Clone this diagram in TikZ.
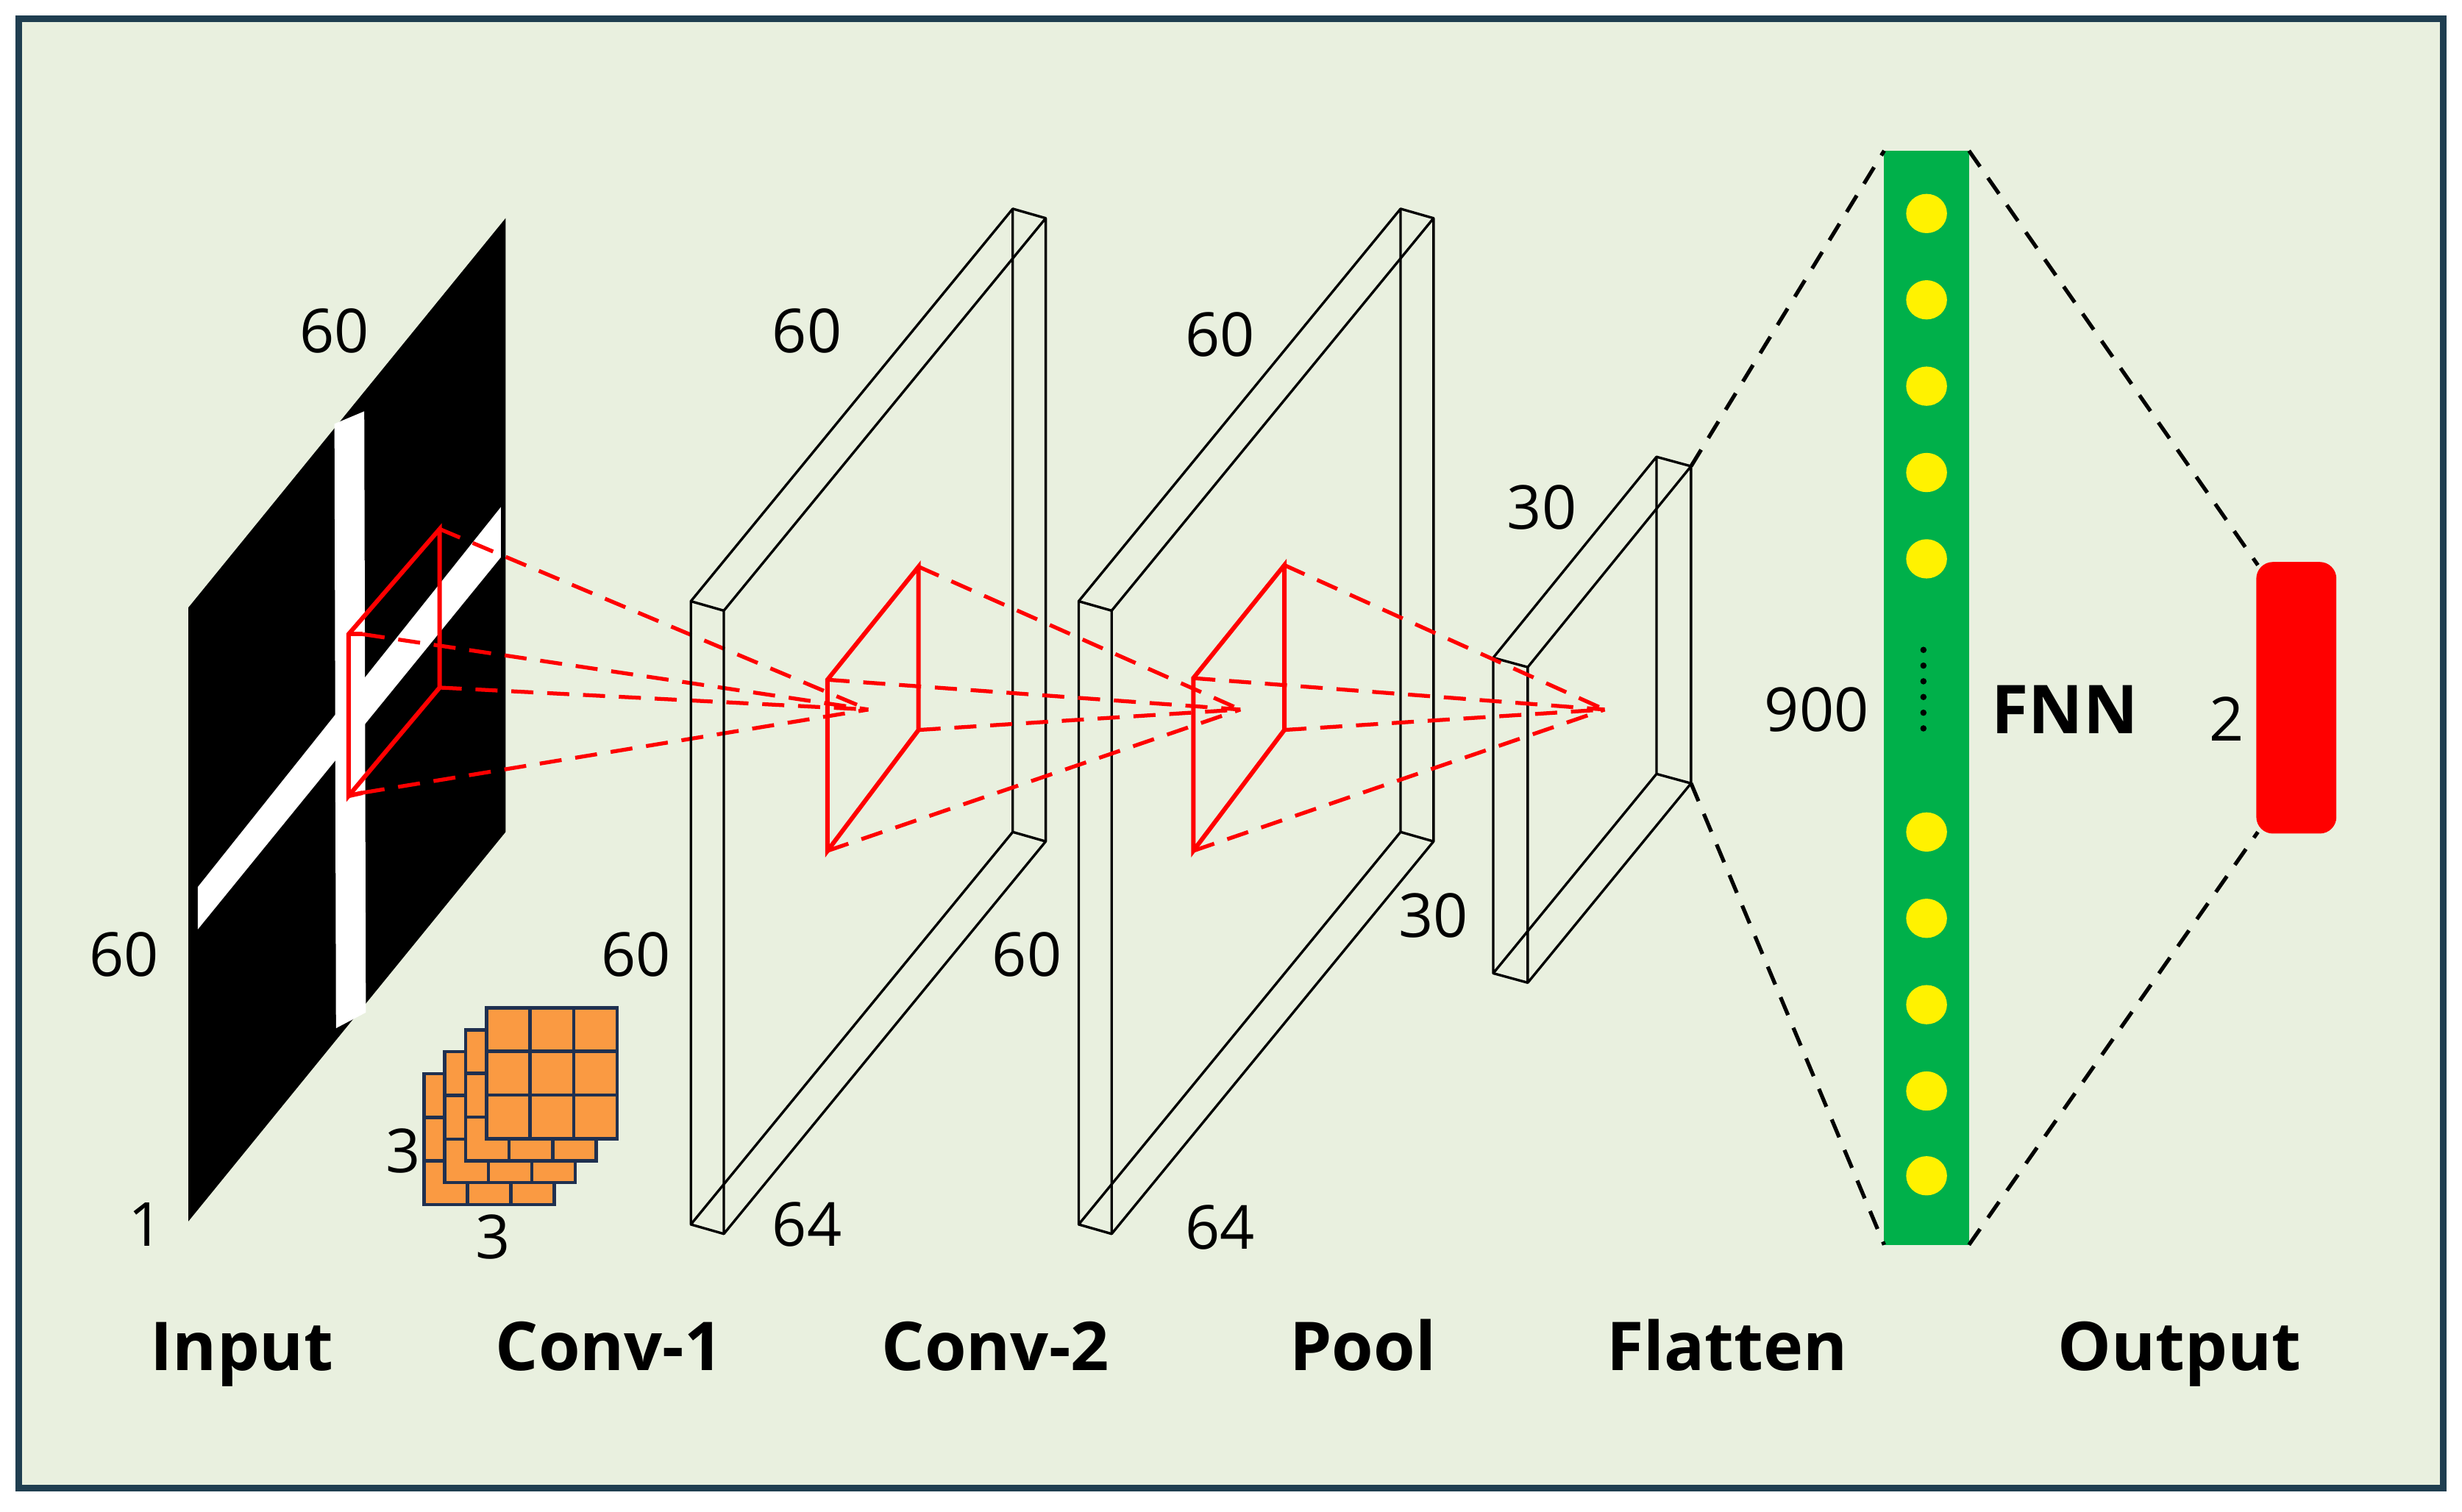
\documentclass[tikz,border=0pt]{standalone}
\usepackage{fontspec}
\setmainfont{Open Sans}
\begin{document}
\begin{tikzpicture}[x=0.01cm,y=-0.01cm,
  slab/.style={draw=black,line width=0.45pt,line join=round},
  rq/.style={draw=red,line width=0.8pt},
  rd/.style={draw=red,line width=0.7pt,dash pattern=on 4pt off 2.5pt},
  bd/.style={draw=black,line width=0.7pt,dash pattern=on 3.5pt off 2.5pt},
  num/.style={font=\fontsize{11}{13}\selectfont,inner sep=0pt},
  ttl/.style={font=\fontsize{12.2}{14}\selectfont\bfseries,inner sep=0pt,anchor=base},
  cell/.style={fill=kor,draw=knv,line width=0.6pt},
  ydot/.style={fill=yellow,draw=none}]
\definecolor{bgg}{HTML}{E9F0DF}
\definecolor{frm}{HTML}{1F3E50}
\definecolor{kor}{HTML}{FA9A42}
\definecolor{knv}{HTML}{1F3050}
\definecolor{gbar}{HTML}{00B04A}
\useasboundingbox (0,0) rectangle (1568,963);
\fill[white] (0,0) rectangle (1568,963);
\draw[fill=bgg,draw=frm,line width=1.2pt] (12,12) rectangle (1556,948);
% input image
\fill[black] (120,387) -- (322,139) -- (322,530) -- (120,778) -- cycle;
\fill[white] (213,270) -- (232,262) -- (233,645) -- (214,655) -- cycle;
\fill[white] (126,565) -- (319,323) -- (319,355) -- (126,592) -- cycle;
% red box on input
\draw[rq] (222,404) -- (280,337) -- (280,438) -- (222,507) -- cycle;
\draw[rq] (222,404) -- (231,404);
\draw[rq] (222,507) -- (231,505);
\coordinate (c1) at (553,452);
\draw[rd] (280,337) -- (c1);
\draw[rd] (231,404) -- (c1);
\draw[rd] (280,438) -- (c1);
\draw[rd] (231,505) -- (c1);
% slabs
\foreach \dx in {0,247}{
  \begin{scope}[xshift=\dx*0.01cm]
  \draw[slab] (440,383) -- (645,133) -- (645,530) -- (440,780) -- cycle;
  \draw[slab] (461,389) -- (666,139) -- (666,536) -- (461,786) -- cycle;
  \draw[slab] (440,383) -- (461,389) (645,133) -- (666,139) (645,530) -- (666,536) (440,780) -- (461,786);
  \end{scope}}
\draw[slab] (951,419) -- (1055,291) -- (1055,493) -- (951,620) -- cycle;
\draw[slab] (973,425) -- (1077,297) -- (1077,499) -- (973,626) -- cycle;
\draw[slab] (951,419) -- (973,425) (1055,291) -- (1077,297) (1055,493) -- (1077,499) (951,620) -- (973,626);
% red quads
\coordinate (c2) at (790,452);
\coordinate (c3) at (1022,452);
\draw[rq] (527,433) -- (585,361) -- (585,465) -- (527,542) -- cycle;
\draw[rd] (585,361) -- (c2); \draw[rd] (527,433) -- (c2);
\draw[rd] (585,465) -- (c2); \draw[rd] (527,542) -- (c2);
\draw[rq] (760,432) -- (818,360) -- (818,465) -- (760,542) -- cycle;
\draw[rd] (818,360) -- (c3); \draw[rd] (760,432) -- (c3);
\draw[rd] (818,465) -- (c3); \draw[rd] (760,542) -- (c3);
% kernels
\foreach \k in {0,1,2,3}{
  \begin{scope}[shift={({(270+13.3*\k)*0.01cm},{(684-14*\k)*(-0.01cm)})}]
  \foreach \i in {0,1,2}{\foreach \j in {0,1,2}{
    \draw[cell] (\i*27.7,\j*27.8) rectangle ++(27.7,27.8);}}
  \end{scope}}
% FNN bar
\fill[gbar] (1200,96) rectangle (1254,793);
\foreach \yy in {136,191,246,301,356,530,585,640,695,749}
  \fill[ydot] (1227,\yy) ellipse (13 and 12.5);
\foreach \yy in {414,424,...,464} \fill[black] (1225,\yy) circle (2);
% output
\fill[red,rounded corners=3pt] (1437,358) rectangle (1488,531);
% black dashed
\coordinate (gtl) at (1200,96); \coordinate (gbl) at (1200,793);
\coordinate (gtr) at (1254,96); \coordinate (gbr) at (1254,793);
\coordinate (ptr) at (1077,297); \coordinate (pbr) at (1077,499);
\coordinate (otl) at (1438,360); \coordinate (obl) at (1438,530);
\draw[bd] (ptr) -- (gtl); \draw[bd] (pbr) -- (gbl);
\draw[bd] (gtr) -- (otl); \draw[bd] (gbr) -- (obl);
% numbers
\node[num] (n1) at (213,211) {60};
\node[num] (n2) at (79,608) {60};
\node[num] (n3) at (93,780) {1};
\node[num] (n4) at (257,733) {3};
\node[num] (n5) at (314,788) {3};
\node[num] (n6) at (514,211) {60};
\node[num] (n7) at (405,608) {60};
\node[num] (n8) at (514,780) {64};
\node[num] (n9) at (777,213) {60};
\node[num] (n10) at (654,608) {60};
\node[num] (n11) at (777,782) {64};
\node[num] (n12) at (982,323) {30};
\node[num] (n13) at (913,583) {30};
\node[num] (n14) at (1157,452) {900};
\node[ttl,anchor=center] (fnn) at (1315,452) {FNN};
\node[num] (n15) at (1418,458) {2};
% titles
\node[ttl] (t1) at (154,873) {Input};
\node[ttl] (t2) at (388,873) {Conv-1};
\node[ttl] (t3) at (634,873) {Conv-2};
\node[ttl] (t4) at (868,873) {Pool};
\node[ttl] (t5) at (1100,873) {Flatten};
\node[ttl] (t6) at (1388,873) {Output};
\end{tikzpicture}
\end{document}
